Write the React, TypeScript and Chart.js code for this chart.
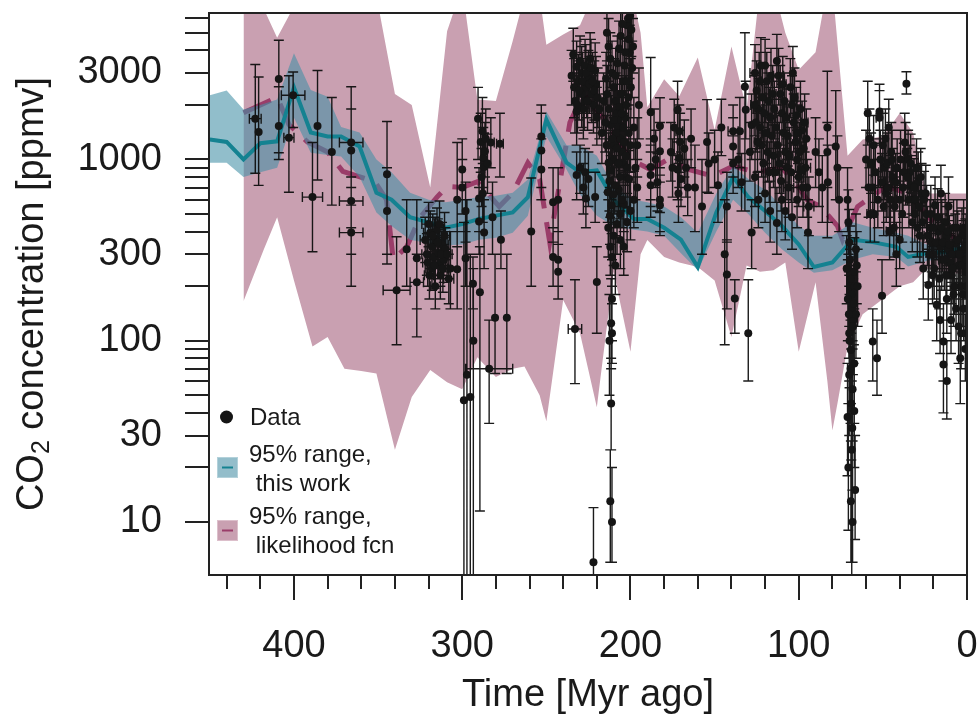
import React, { useEffect, useRef } from 'react';
import { Chart, registerables } from 'chart.js';

Chart.register(...registerables);

const FONT = "'Liberation Sans', Arial, Helvetica, sans-serif";
const INK = '#1a1a1a';

// ---------- axes ----------
const xTickValues = [0, 20, 40, 60, 80, 100, 120, 140, 160, 180, 200, 220, 240, 260, 280, 300, 320, 340, 360, 380, 400, 420, 440];
const xTickLabels = [0, 100, 200, 300, 400];
const yTickValues = [10, 20, 30, 40, 50, 60, 70, 80, 90, 100, 200, 300, 400, 500, 600, 700, 800, 900, 1000, 2000, 3000, 4000, 5000, 6000];
const yTickLabels = [10, 30, 100, 300, 1000, 3000];

// ---------- 95% range, likelihood fcn (pink band) ----------
const pinkAge = [430, 418, 410, 400, 389, 380, 370, 360, 351, 340, 330, 319, 309, 300, 291, 280, 270, 263, 254, 250, 240, 230, 220, 210, 200, 194, 190, 180, 171, 160, 150, 140, 131, 123, 115, 108, 100, 90, 83, 80, 77, 71, 62, 50, 40, 32, 24, 12, 0];
const pinkHigh = [12000, 6800, 4700, 7000, 9000, 9000, 9000, 9000, 8000, 2300, 2000, 700, 5100, 9000, 2140, 2100, 4500, 8000, 8000, 4300, 4900, 5500, 9000, 9000, 9000, 5000, 1940, 2770, 2230, 3650, 1460, 4200, 1880, 9000, 9000, 5000, 3130, 3900, 9000, 9000, 4400, 1050, 1290, 1340, 1800, 1400, 650, 650, 650];
const pinkLow = [165, 318, 480, 215, 93, 105, 70, 68, 66, 25, 49, 69, 59, 54, 81, 63, 70, 72, 50, 36, 168, 110, 43, 240, 87, 300, 360, 290, 270, 255, 215, 105, 260, 240, 245, 270, 87, 210, 60, 32, 45, 93, 140, 170, 200, 210, 250, 240, 230];

// likelihood median (dashed)
const likelihoodAge = [430, 410, 403, 392, 380, 371, 352, 345, 341, 333, 325, 315, 309, 300, 291, 278, 270, 261, 254, 248, 236, 228, 214, 200, 188, 178, 165, 151, 139, 125, 110, 100, 95, 87, 77, 74, 65, 48, 35, 20, 0];
const likelihoodMedian = [1810, 2200, 1560, 1250, 1100, 860, 755, 600, 280, 330, 480, 620, 710, 700, 755, 550, 655, 960, 780, 350, 1600, 2300, 1600, 1000, 880, 1000, 880, 810, 920, 850, 900, 700, 600, 550, 430, 361, 550, 710, 650, 450, 330];

// ---------- 95% range, this work (blue band) ----------
const blueAge = [450, 440, 430, 420, 410, 400, 390, 380, 372, 361, 351, 342, 331, 320, 310, 300, 290, 280, 270, 261, 250, 238, 230, 220, 210, 198, 190, 180, 170, 160, 149, 139, 130, 120, 110, 100, 91, 80, 68, 56, 42, 35, 24, 12, 0];
const blueHigh = [2260, 2400, 1890, 2000, 2140, 3860, 2420, 2220, 1510, 1410, 1000, 850, 655, 600, 580, 600, 620, 630, 655, 775, 1840, 1200, 1200, 1050, 710, 600, 580, 550, 480, 394, 650, 925, 780, 680, 550, 430, 380, 380, 450, 420, 394, 380, 340, 345, 361];
const blueLow = [960, 960, 800, 850, 900, 1700, 1090, 1060, 1040, 800, 510, 430, 361, 345, 335, 340, 361, 370, 394, 490, 1340, 880, 640, 490, 430, 410, 400, 380, 304, 245, 400, 600, 500, 394, 320, 270, 237, 245, 280, 300, 290, 257, 275, 285, 300];
const blueMedian = [1290, 1250, 1000, 1230, 1260, 2500, 1410, 1340, 1340, 1180, 655, 600, 480, 450, 420, 440, 470, 490, 510, 620, 1660, 960, 850, 870, 600, 470, 470, 420, 361, 255, 510, 800, 620, 520, 430, 340, 255, 270, 361, 350, 330, 290, 304, 310, 330];

// ---------- proxy data: [age, CO2, CO2 low, CO2 high, age error] ----------
const ptsDevonian = [
  [423, 1680, 840, 3340, 3.5], [421, 1420, 720, 2850, 0], [409, 2780, 1090, 4550, 0], [409, 1530, 1000, 2520, 0],
  [403, 1320, 660, 2900, 3], [400.5, 2260, 1500, 3040, 7], [389, 620, 310, 1240, 6], [386, 1530, 770, 3100, 0],
  [377.5, 1100, 560, 2200, 0], [366, 1240, 200, 2520, 7], [366, 1120, 700, 1900, 0], [366, 590, 420, 800, 7],
  [366, 395, 300, 560, 7],
];
const ptsCarboniferous = [
  [344.7, 830, 265, 1620, 0], [344.7, 520, 300, 900, 0], [339, 190, 95, 375, 8], [333, 320, 200, 600, 0],
  [327, 285, 105, 600, 0], [327, 210, 150, 300, 4], [319, 394, 300, 520, 4], [318, 330, 250, 430, 4],
  [317, 290, 220, 380, 4], [318, 250, 190, 330, 4], [316, 361, 270, 480, 4], [315, 410, 310, 540, 4],
  [314, 305, 230, 400, 4], [313, 270, 200, 360, 4], [312, 340, 260, 450, 4], [320, 440, 330, 580, 4],
  [313, 230, 170, 310, 4], [311, 280, 210, 370, 4], [310, 320, 240, 420, 3], [316, 200, 150, 270, 3],
  [321, 300, 230, 390, 3], [307, 250, 150, 400, 0], [303, 600, 330, 1240, 0], [303, 248, 150, 400, 0],
  [322, 360, 270, 480, 3], [320.5, 270, 200, 360, 3], [319.5, 230, 170, 310, 3], [317.5, 380, 280, 500, 3],
  [316.5, 260, 195, 350, 3], [314.5, 350, 260, 470, 3], [313.5, 440, 330, 590, 3], [312.5, 300, 220, 400, 3],
  [311.5, 250, 185, 335, 3], [310.5, 380, 285, 510, 3], [309, 300, 220, 400, 3], [308, 220, 160, 300, 3],
  [300, 880, 600, 1300, 0], [300, 700, 500, 1000, 0], [298, 520, 350, 750, 0], [298, 285, 200, 400, 0],
  [297.2, 65, 3, 600, 0], [299, 47, 2, 450, 0], [295.2, 49, 2, 300, 0], [293.4, 100, 3, 250, 0],
];
const ptsPermian = [
  [293.6, 206, 150, 290, 0], [290.6, 1680, 1000, 2500, 0], [290, 610, 400, 900, 0], [290, 455, 300, 700, 0],
  [289.5, 185, 11.5, 330, 0], [288, 1430, 900, 2200, 0], [287.5, 1020, 700, 1500, 0], [287, 910, 600, 1400, 0],
  [286.5, 1110, 800, 1600, 0], [287, 395, 250, 600, 0], [284, 70, 35, 130, 14], [283, 1240, 900, 1700, 2],
  [282, 480, 300, 750, 0], [280.5, 134, 66, 300, 0], [277.6, 1220, 800, 1800, 2], [277, 361, 250, 520, 0],
  [273.5, 134, 66, 300, 0], [259, 400, 200, 790, 0], [253, 1340, 700, 2000, 0], [253, 1120, 700, 1800, 0],
  [253, 880, 600, 1300, 0], [246, 580, 350, 900, 0], [246, 290, 200, 420, 0], [243, 600, 400, 900, 0],
  [243, 280, 200, 400, 0], [243, 240, 170, 340, 0], [289, 1250, 850, 1800, 0], [288.5, 800, 550, 1150, 0],
  [287.8, 650, 450, 950, 0], [286, 1300, 900, 1900, 0], [285, 950, 650, 1380, 0],
];
const ptsTriassic = [
  [233, 116, 58, 217, 4], [232, 3250, 2000, 4500, 0], [231, 2700, 1800, 3800, 0], [230, 3500, 2400, 4800, 0],
  [229, 2300, 1500, 3300, 2], [229, 3000, 2000, 4200, 0], [228, 1900, 1300, 2800, 0], [227, 3300, 2300, 4600, 2],
  [226, 2500, 1700, 3600, 0], [225, 2800, 1900, 4000, 0], [224, 3600, 2500, 5000, 0], [223, 2300, 1600, 3300, 2],
  [222, 2000, 1400, 2900, 0], [221, 3100, 2100, 4400, 0], [220.5, 2600, 1800, 3700, 0], [220, 1700, 1200, 2500, 0],
  [232, 1840, 1200, 2700, 0], [233, 2100, 1400, 3000, 0], [235, 2900, 2000, 4000, 0], [232, 820, 600, 1100, 0],
  [230, 900, 650, 1200, 0], [228, 700, 500, 950, 0], [227, 850, 600, 1150, 0], [226.5, 610, 420, 850, 0],
  [225, 780, 550, 1100, 0], [221, 620, 450, 850, 0], [222, 6, 3, 12, 0], [220, 211, 110, 330, 0],
  [234, 3800, 2700, 5300, 0], [233.5, 2500, 1700, 3600, 0], [231.5, 2000, 1400, 2900, 0], [230.5, 2400, 1650, 3500, 0],
  [228.5, 2700, 1850, 3900, 0], [227.5, 2100, 1450, 3000, 0], [226.5, 3000, 2100, 4300, 0], [225.5, 2100, 1450, 3000, 0],
  [224.5, 2600, 1800, 3700, 0], [223.5, 3200, 2200, 4600, 0], [222.5, 2700, 1850, 3900, 0], [221.5, 2400, 1650, 3500, 0],
  [219.5, 2200, 1500, 3200, 0], [218.5, 1900, 1300, 2700, 0],
];
const ptsLateTriassic = [
  [214, 5000, 3500, 7000, 0], [213, 4200, 3000, 6000, 0], [212, 3600, 2500, 5000, 0], [211, 3000, 2000, 4500, 0],
  [210, 2500, 1700, 3600, 0], [209, 2100, 1400, 3000, 0], [208, 1800, 1200, 2600, 0], [207, 1500, 1000, 2200, 0],
  [206, 1300, 900, 1900, 0], [205, 1100, 750, 1600, 0], [204, 950, 650, 1400, 0], [203, 800, 550, 1200, 0],
  [202, 5500, 4000, 7500, 0], [201, 4600, 3300, 6500, 0], [200.5, 3900, 2800, 5500, 0], [201.5, 6000, 4500, 8000, 0],
  [203.5, 3300, 2300, 4700, 0], [204.5, 2700, 1900, 3900, 0], [205.5, 2300, 1600, 3300, 0], [206.5, 1950, 1350, 2800, 0],
  [207.5, 1650, 1150, 2400, 0], [208.5, 1400, 950, 2000, 0], [209.5, 1200, 800, 1750, 0], [210.5, 1000, 700, 1450, 0],
  [211.5, 870, 600, 1250, 0], [212.5, 760, 520, 1100, 0], [213.5, 660, 450, 950, 0], [214.5, 2800, 2000, 3900, 0],
  [202.5, 2000, 1400, 2900, 0], [203, 1700, 1200, 2400, 0], [201, 1400, 1000, 2000, 0], [200, 1200, 850, 1700, 0],
  [204, 570, 400, 820, 0], [206, 500, 350, 720, 0], [208, 440, 300, 640, 0], [210, 380, 260, 550, 0],
  [212, 330, 230, 480, 0], [211, 290, 200, 420, 0], [209, 260, 180, 380, 0], [207, 680, 470, 980, 0],
  [205, 600, 420, 870, 0], [211, 170, 100, 280, 0], [211.5, 125, 70, 220, 0], [212.5, 100, 50, 180, 0],
  [211, 110, 75, 160, 0], [211.5, 45, 25, 80, 0], [212, 13, 6, 25, 0], [211, 10, 6, 20, 0],
  [213.8, 2300, 1600, 3300, 0], [212.8, 1900, 1300, 2700, 0], [211.8, 1550, 1050, 2250, 0], [210.8, 1300, 900, 1900, 0],
  [209.8, 1650, 1150, 2400, 0], [208.8, 2900, 2000, 4100, 0], [207.8, 3400, 2400, 4800, 0], [206.8, 4100, 2900, 5800, 0],
  [205.8, 4800, 3400, 6800, 0], [204.8, 5600, 4000, 7800, 0], [203.8, 1250, 850, 1800, 0], [202.8, 1050, 720, 1500, 0],
  [201.8, 900, 620, 1300, 0], [200.8, 780, 540, 1120, 0], [199.8, 2500, 1700, 3600, 0], [199, 3200, 2200, 4500, 0],
  [198.5, 4200, 3000, 6000, 0], [199.5, 5200, 3700, 7200, 0], [200.2, 6200, 4500, 8500, 0], [201.2, 2200, 1500, 3200, 0],
  [202.2, 2700, 1900, 3800, 0], [203.2, 3900, 2700, 5500, 0], [204.2, 1500, 1000, 2200, 0], [205.2, 1800, 1250, 2600, 0],
  [206.2, 800, 550, 1150, 0], [207.2, 950, 650, 1350, 0], [208.2, 1150, 800, 1650, 0], [209.2, 720, 500, 1050, 0],
  [210.2, 640, 440, 920, 0], [211.2, 560, 390, 800, 0], [212.2, 490, 340, 700, 0], [213.2, 420, 290, 600, 0],
  [214.2, 1200, 820, 1750, 0], [213, 960, 660, 1400, 0], [206, 360, 250, 520, 0], [204, 330, 230, 470, 0],
  [202, 450, 310, 650, 0], [200, 520, 360, 750, 0], [198, 600, 420, 860, 0], [215, 1600, 1100, 2300, 0],
  [216, 2100, 1450, 3000, 0], [217, 1400, 950, 2000, 0],
];
const ptsJurassic = [
  [198, 1500, 1000, 2200, 0], [197, 900, 600, 1300, 0], [196, 1200, 800, 1700, 0], [196, 700, 450, 1000, 0],
  [195, 2000, 1300, 3200, 0], [188, 1820, 910, 3650, 0], [188, 910, 600, 1300, 0], [188, 820, 550, 1200, 0],
  [188, 720, 480, 1100, 0], [182.5, 1530, 510, 2190, 0], [182.5, 1110, 750, 1600, 0], [182.5, 600, 400, 900, 0],
  [182.5, 560, 380, 820, 0], [172, 1880, 1300, 2700, 0], [171, 1430, 1000, 2000, 2], [170.5, 1250, 850, 1800, 0],
  [171, 1020, 700, 1450, 2], [172, 880, 600, 1250, 0], [170, 780, 550, 1100, 2], [171.5, 650, 450, 950, 0],
  [161.7, 700, 400, 1200, 0], [157.5, 550, 300, 1000, 0], [154.5, 1250, 660, 2140, 0], [153.5, 950, 650, 1400, 0],
  [148, 720, 450, 1100, 0], [144, 300, 95, 600, 0], [142.7, 550, 350, 850, 0], [142.7, 232, 150, 360, 0],
  [139, 1430, 1000, 2000, 3], [139, 1180, 800, 1700, 0], [139, 950, 650, 1350, 0], [138, 171, 110, 217, 0],
  [135, 1430, 900, 2200, 0], [132, 2520, 520, 5000, 0], [130, 110, 60, 217, 0], [131.5, 1880, 1300, 2700, 0],
  [128, 395, 250, 600, 0], [128, 1550, 1000, 2300, 0], [186, 1300, 900, 1900, 0], [185, 1000, 700, 1450, 0],
  [184, 750, 520, 1080, 0], [176, 1100, 760, 1600, 0], [175, 900, 620, 1300, 0], [174, 1500, 1050, 2150, 0],
  [168, 1150, 800, 1650, 0], [167, 900, 620, 1300, 0], [166, 700, 490, 1000, 0], [164, 1300, 900, 1900, 0],
  [150, 1000, 700, 1450, 0], [146, 1500, 1050, 2150, 0], [136, 1000, 700, 1450, 0], [134, 750, 520, 1080, 0],
  [129, 1100, 760, 1600, 0],
];
const ptsCretaceous = [
  [126, 3000, 2000, 4300, 3], [125, 2400, 1600, 3500, 0], [124, 1900, 1300, 2800, 3], [123, 1500, 1000, 2200, 0],
  [122, 1200, 800, 1800, 3], [121, 950, 650, 1400, 0], [120, 3300, 2300, 4600, 0], [119, 2700, 1800, 3900, 3],
  [118, 2100, 1400, 3000, 0], [117, 1700, 1150, 2500, 3], [116, 1350, 900, 2000, 0], [115, 1050, 700, 1550, 3],
  [114, 850, 580, 1250, 0], [113, 446, 300, 700, 0], [113, 3500, 2500, 4900, 0], [112, 2900, 2000, 4100, 3],
  [111, 2300, 1600, 3300, 0], [110, 1800, 1200, 2600, 3], [109, 1400, 950, 2000, 0], [108, 1100, 750, 1600, 3],
  [107, 900, 600, 1300, 0], [106, 700, 480, 1000, 3], [105, 2500, 1700, 3600, 0], [104, 2000, 1350, 2900, 3],
  [103, 1600, 1100, 2300, 0], [102, 1250, 850, 1800, 3], [101, 1000, 700, 1450, 0], [100, 800, 550, 1150, 3],
  [99, 1900, 1300, 2700, 0], [98, 1450, 1000, 2100, 3], [97, 1150, 800, 1650, 0], [96, 900, 600, 1300, 3],
  [95, 700, 480, 1000, 0], [94.5, 395, 250, 600, 0], [94, 550, 380, 800, 3], [120, 650, 450, 950, 0],
  [117, 520, 350, 760, 0], [110, 600, 400, 880, 0], [104, 480, 320, 700, 0], [126, 800, 550, 1150, 0],
  [126.5, 2000, 1350, 2900, 2], [125.5, 1600, 1100, 2300, 0], [124.5, 1250, 850, 1800, 2], [123.5, 2700, 1850, 3900, 0],
  [122.5, 3300, 2300, 4700, 0], [121.5, 2200, 1500, 3200, 2], [120.5, 1800, 1250, 2600, 0], [119.5, 1400, 950, 2000, 2],
  [118.5, 1100, 750, 1600, 0], [117.5, 850, 580, 1250, 2], [116.5, 2900, 2000, 4100, 0], [115.5, 2300, 1600, 3300, 2],
  [114.5, 1900, 1300, 2700, 0], [113.5, 1500, 1050, 2150, 2], [112.5, 1200, 820, 1750, 0], [111.5, 950, 650, 1400, 2],
  [110.5, 760, 520, 1100, 0], [109.5, 2600, 1800, 3700, 2], [108.5, 2100, 1450, 3000, 0], [107.5, 1700, 1150, 2450, 2],
  [106.5, 1350, 920, 1950, 0], [105.5, 1050, 720, 1500, 2], [104.5, 850, 580, 1230, 0], [103.5, 3000, 2100, 4200, 0],
  [102.5, 2200, 1500, 3200, 2], [101.5, 1750, 1200, 2500, 0], [100.5, 1400, 950, 2000, 2], [99.5, 1100, 750, 1600, 0],
  [98.5, 870, 600, 1250, 2], [97.5, 700, 480, 1000, 0], [96.5, 1600, 1100, 2300, 2], [95.5, 1300, 900, 1900, 0],
  [124, 600, 420, 860, 0], [108, 520, 360, 750, 0], [101, 600, 420, 860, 0],
  [90, 1100, 700, 1700, 0], [88, 850, 550, 1300, 0], [86, 700, 450, 1050, 0], [83, 1500, 370, 3070, 0],
  [83, 1100, 700, 1600, 0], [82.7, 750, 450, 1200, 0], [78, 1180, 600, 2400, 0], [77, 900, 600, 1350, 0],
  [76, 600, 400, 900, 0],
];
const ptsKPg = [
  [71, 600, 400, 900, 0], [70.5, 450, 300, 680, 0], [70, 350, 230, 530, 0], [69.5, 280, 180, 430, 0],
  [69, 220, 140, 340, 0], [68.5, 180, 110, 290, 0], [68, 150, 90, 250, 0], [67.5, 130, 75, 220, 0],
  [70, 110, 60, 200, 0], [69, 89, 45, 170, 0], [68, 54, 28, 100, 0], [67, 41, 20, 80, 0],
  [71, 38, 18, 75, 0], [66.5, 15, 8, 30, 0], [68, 10, 6, 20, 0], [67, 75, 35, 140, 0],
  [70, 65, 30, 120, 0], [69.5, 200, 120, 320, 0], [67, 240, 150, 370, 0], [66, 320, 200, 500, 0],
  [68.5, 25, 3, 60, 0], [71.5, 250, 160, 380, 0], [70.8, 170, 100, 280, 0], [70.2, 140, 80, 240, 0],
  [69.8, 100, 55, 180, 0], [69.2, 70, 35, 130, 0], [68.8, 45, 22, 90, 0], [68.2, 33, 15, 65, 0],
  [67.8, 120, 65, 210, 0], [67.2, 160, 95, 260, 0], [66.8, 200, 120, 320, 0], [70.5, 20, 9, 45, 0],
  [69, 13, 6, 28, 0], [66, 140, 80, 240, 0], [65.5, 260, 160, 400, 0], [65, 200, 120, 320, 0],
];
const ptsPaleogene = [
  [59, 1800, 1200, 2700, 0], [58, 1300, 900, 1900, 0], [57, 950, 650, 1400, 2], [56, 700, 480, 1000, 0],
  [55, 500, 350, 720, 2], [56, 99, 60, 150, 0], [53.5, 80, 50, 130, 0], [52, 1840, 1300, 2600, 0],
  [52, 1700, 1200, 2400, 2], [50.5, 177, 110, 280, 0], [50, 1200, 800, 1800, 0], [49, 900, 600, 1350, 2],
  [48, 650, 450, 950, 0], [47.5, 950, 650, 1400, 0], [46, 400, 280, 580, 2], [45, 1100, 750, 1600, 0],
  [44, 800, 550, 1150, 2], [43, 550, 380, 800, 0], [42, 300, 200, 450, 0], [40, 600, 420, 860, 2],
  [38, 700, 480, 1000, 0], [37, 1240, 850, 1800, 0], [36, 2620, 2300, 3050, 0], [35, 1000, 700, 1450, 2],
  [34, 850, 600, 1200, 0], [33, 720, 500, 1050, 2], [32, 600, 420, 870, 0], [31, 500, 350, 720, 0],
  [30, 900, 620, 1300, 2], [29, 750, 520, 1100, 0], [28, 380, 270, 550, 0], [27, 650, 450, 950, 2],
  [26, 250, 170, 370, 0], [40, 361, 250, 520, 0], [60, 1000, 700, 1450, 0], [58.5, 700, 480, 1000, 0],
  [57.5, 500, 350, 720, 2], [55.5, 1200, 820, 1750, 0], [54.5, 850, 580, 1230, 2], [53, 600, 420, 860, 0],
  [51.5, 1000, 700, 1450, 0], [50.5, 750, 520, 1080, 2], [49.5, 550, 380, 800, 0], [48.5, 1300, 900, 1900, 0],
  [47, 700, 480, 1000, 2], [46.5, 1500, 1050, 2150, 0], [45.5, 600, 420, 860, 0], [44.5, 1000, 700, 1450, 2],
  [43.5, 420, 290, 600, 0], [42.5, 750, 520, 1080, 0], [41.5, 900, 620, 1300, 2], [39.5, 1000, 700, 1450, 0],
  [38.5, 500, 350, 720, 0], [37.5, 850, 590, 1230, 2], [36.5, 1100, 760, 1600, 0], [35.5, 800, 560, 1150, 0],
  [34.5, 600, 420, 860, 2], [33.5, 950, 660, 1380, 0], [32.5, 450, 310, 650, 0], [31.5, 700, 490, 1010, 2],
  [30.5, 600, 420, 860, 0], [29.5, 420, 290, 600, 0], [28.5, 550, 380, 790, 2], [27.5, 800, 560, 1150, 0],
  [26.5, 450, 310, 650, 0], [25.5, 600, 420, 860, 0],
];
const ptsNeogene = [
  [24, 500, 350, 720, 0], [23, 203, 130, 320, 0], [22, 420, 290, 600, 2], [21, 350, 240, 500, 0],
  [20, 300, 200, 430, 2], [19, 560, 390, 800, 0], [18, 158, 100, 250, 0], [17, 400, 280, 580, 2],
  [16, 330, 230, 470, 0], [15, 280, 190, 400, 2], [14, 99, 60, 160, 0], [14, 74, 40, 130, 0],
  [13, 450, 310, 650, 0], [12, 380, 260, 550, 2], [11, 320, 220, 460, 0], [10, 270, 190, 390, 2],
  [9, 230, 160, 330, 0], [8, 420, 290, 600, 2], [7, 350, 240, 500, 0], [6, 300, 210, 430, 2],
  [5, 260, 180, 370, 0], [4, 80, 45, 140, 0], [4, 200, 140, 290, 0], [3, 380, 260, 540, 1.5],
  [2, 320, 220, 460, 0], [1.5, 280, 190, 400, 1.5], [1, 240, 170, 340, 0], [0.5, 350, 250, 500, 0],
  [2.5, 180, 120, 260, 0], [6.5, 150, 100, 220, 0], [9.5, 130, 85, 200, 0], [11, 550, 380, 800, 0],
  [15.5, 650, 450, 930, 0], [20.5, 230, 160, 330, 0], [0.2, 200, 140, 290, 0], [3.5, 110, 70, 170, 0],
  [1, 90, 60, 140, 0], [12, 60, 37, 100, 0], [24.5, 650, 450, 930, 0], [23.5, 380, 260, 550, 2],
  [22.5, 300, 210, 430, 0], [21.5, 500, 350, 720, 2], [20, 420, 290, 600, 0], [19.5, 250, 170, 360, 0],
  [18.5, 350, 240, 500, 2], [17.5, 480, 330, 690, 0], [16.5, 220, 150, 320, 0], [15, 420, 290, 600, 0],
  [14.5, 350, 240, 500, 2], [13.5, 280, 190, 400, 0], [12.5, 230, 160, 330, 0], [11.5, 400, 280, 580, 2],
  [10.5, 340, 240, 490, 0], [9, 300, 210, 430, 2], [8.5, 250, 170, 360, 0], [7.5, 200, 140, 290, 0],
  [6, 420, 290, 600, 0], [5.5, 360, 250, 520, 2], [4.5, 300, 210, 430, 0], [3, 260, 180, 370, 0],
  [2, 420, 290, 600, 2], [1, 330, 230, 470, 0], [0.3, 280, 190, 400, 0], [8, 180, 120, 260, 0],
  [12, 170, 110, 250, 0], [16, 130, 85, 200, 0], [5, 120, 75, 190, 0], [2, 150, 100, 220, 0],
  [0.5, 110, 70, 170, 0],
];

const allPoints = [
  ...ptsDevonian, ...ptsCarboniferous, ...ptsPermian, ...ptsTriassic, ...ptsLateTriassic,
  ...ptsJurassic, ...ptsCretaceous, ...ptsKPg, ...ptsPaleogene, ...ptsNeogene,
];

const PINK = '#c9a0b1';
const PINK_LINE = '#9a3d69';
const BLUE = 'rgba(67,144,166,0.585)';
const TEAL = '#148291';

function xy(ages: number[], vals: number[]) {
  return ages.map((a, i) => ({ x: a, y: vals[i] }));
}

const overlay = {
  id: 'overlay',
  beforeDatasetDraw(chart: any, args: any) {
    if (args.index !== 6) return;
    const { ctx, chartArea: a, scales } = chart;
    const xs = scales.x, ys = scales.y;
    ctx.save();
    ctx.beginPath();
    ctx.rect(a.left, a.top, a.right - a.left, a.bottom - a.top);
    ctx.clip();
    ctx.strokeStyle = 'rgba(15,15,15,0.95)';
    ctx.lineWidth = 1.4;
    ctx.beginPath();
    for (const p of allPoints) {
      const [t, v, lo, hi, dt] = p;
      const px = xs.getPixelForValue(t);
      const py = ys.getPixelForValue(v);
      const pl = ys.getPixelForValue(lo);
      const ph = ys.getPixelForValue(hi);
      ctx.moveTo(px, pl); ctx.lineTo(px, ph);
      ctx.moveTo(px - 5, pl); ctx.lineTo(px + 5, pl);
      ctx.moveTo(px - 5, ph); ctx.lineTo(px + 5, ph);
      if (dt > 0) {
        const l = xs.getPixelForValue(t + dt);
        const r = xs.getPixelForValue(t - dt);
        ctx.moveTo(l, py); ctx.lineTo(r, py);
        ctx.moveTo(l, py - 5); ctx.lineTo(l, py + 5);
        ctx.moveTo(r, py - 5); ctx.lineTo(r, py + 5);
      }
    }
    ctx.stroke();
    ctx.restore();
  },
  afterDraw(chart: any) {
    const { ctx, chartArea: a, scales } = chart;
    const xs = scales.x, ys = scales.y;
    ctx.save();
    ctx.strokeStyle = '#222';
    ctx.lineWidth = 2;
    ctx.strokeRect(a.left, a.top, a.right - a.left, a.bottom - a.top);
    ctx.beginPath();
    for (const v of yTickValues) {
      const py = Math.round(ys.getPixelForValue(v));
      ctx.moveTo(a.left - 24, py); ctx.lineTo(a.left, py);
    }
    for (const v of xTickValues) {
      const px = Math.round(xs.getPixelForValue(v));
      const len = v % 100 === 0 ? 25 : 14;
      ctx.moveTo(px, a.bottom); ctx.lineTo(px, a.bottom + len);
    }
    ctx.stroke();

    ctx.fillStyle = INK;
    ctx.font = `38px ${FONT}`;
    ctx.textAlign = 'center';
    ctx.textBaseline = 'alphabetic';
    ctx.fillText('Time [Myr ago]', (a.left + a.right) / 2, 706);

    ctx.save();
    ctx.translate(43, (a.top + a.bottom) / 2);
    ctx.rotate(-Math.PI / 2);
    ctx.textAlign = 'left';
    ctx.font = `38px ${FONT}`;
    const w1 = ctx.measureText('CO').width;
    const w3 = ctx.measureText(' concentration [ppmv]').width;
    ctx.font = `25px ${FONT}`;
    const w2 = ctx.measureText('2').width;
    let xx = -(w1 + w2 + w3) / 2;
    ctx.font = `38px ${FONT}`;
    ctx.fillText('CO', xx, 0); xx += w1;
    ctx.font = `25px ${FONT}`;
    ctx.fillText('2', xx, 6); xx += w2;
    ctx.font = `38px ${FONT}`;
    ctx.fillText(' concentration [ppmv]', xx, 0);
    ctx.restore();

    ctx.font = `24px ${FONT}`;
    ctx.textAlign = 'left';
    ctx.textBaseline = 'alphabetic';
    ctx.beginPath();
    ctx.arc(226.5, 417, 6.5, 0, Math.PI * 2);
    ctx.fillStyle = '#151515';
    ctx.fill();
    ctx.fillStyle = INK;
    ctx.fillText('Data', 250, 425);

    ctx.fillStyle = '#93bdca';
    ctx.fillRect(217, 457, 21, 21);
    ctx.strokeStyle = '#b3d1da';
    ctx.lineWidth = 1;
    ctx.strokeRect(217.5, 457.5, 20, 20);
    ctx.strokeStyle = TEAL;
    ctx.lineWidth = 2;
    ctx.beginPath(); ctx.moveTo(222, 467.5); ctx.lineTo(233, 467.5); ctx.stroke();
    ctx.fillStyle = INK;
    ctx.fillText('95% range,', 249, 462);
    ctx.fillText(' this work', 249, 491);

    ctx.fillStyle = PINK;
    ctx.fillRect(217, 520, 21, 21);
    ctx.strokeStyle = '#dcbfcb';
    ctx.lineWidth = 1;
    ctx.strokeRect(217.5, 520.5, 20, 20);
    ctx.strokeStyle = PINK_LINE;
    ctx.lineWidth = 2;
    ctx.beginPath(); ctx.moveTo(222, 530.5); ctx.lineTo(233, 530.5); ctx.stroke();
    ctx.fillStyle = INK;
    ctx.fillText('95% range,', 249, 524);
    ctx.fillText(' likelihood fcn', 249, 553);
    ctx.restore();
  },
};

export default function App() {
  const ref = useRef<HTMLCanvasElement>(null);
  useEffect(() => {
    Chart.defaults.font.family = FONT;
    const lineBase = { pointRadius: 0, pointHoverRadius: 0, tension: 0, spanGaps: true };
    const chart = new Chart(ref.current as HTMLCanvasElement, {
      type: 'line',
      data: {
        datasets: [
          { ...lineBase, label: 'pinkHigh', data: xy(pinkAge, pinkHigh), borderWidth: 0, borderColor: 'transparent', backgroundColor: PINK, fill: '+1', order: 6 },
          { ...lineBase, label: 'pinkLow', data: xy(pinkAge, pinkLow), borderWidth: 0, borderColor: 'transparent', fill: false, order: 7 },
          { ...lineBase, label: 'likelihood', data: xy(likelihoodAge, likelihoodMedian), borderWidth: 5, borderColor: PINK_LINE, borderDash: [30, 14], borderCapStyle: 'butt', fill: false, order: 5 },
          { ...lineBase, label: 'blueHigh', data: xy(blueAge, blueHigh), borderWidth: 0, borderColor: 'transparent', backgroundColor: BLUE, fill: '+1', order: 4 },
          { ...lineBase, label: 'blueLow', data: xy(blueAge, blueLow), borderWidth: 0, borderColor: 'transparent', fill: false, order: 3 },
          { ...lineBase, label: 'median', data: xy(blueAge, blueMedian), borderWidth: 4, borderColor: TEAL, fill: false, order: 2 },
          { type: 'scatter', label: 'Data', data: allPoints.map((p) => ({ x: p[0], y: p[1] })), pointRadius: 4, pointHoverRadius: 4, backgroundColor: '#151515', borderWidth: 0, showLine: false, order: 1 } as any,
        ],
      },
      options: {
        responsive: false,
        maintainAspectRatio: false,
        animation: false,
        events: [],
        layout: { padding: { left: 0, right: 12, top: 13, bottom: 0 } },
        plugins: { legend: { display: false }, tooltip: { enabled: false } },
        scales: {
          x: {
            type: 'linear',
            reverse: true,
            min: 0,
            max: 450.5,
            bounds: 'data',
            grid: { display: false, drawTicks: false },
            border: { display: false },
            ticks: {
              autoSkip: false,
              maxRotation: 0,
              padding: 49,
              color: INK,
              font: { family: FONT, size: 38 },
              callback: (v: any) => (xTickLabels.includes(Number(v)) ? String(v) : ''),
            },
            afterBuildTicks: (s: any) => { s.ticks = xTickValues.map((v) => ({ value: v })); },
            afterFit: (s: any) => { s.height = 146; s.paddingLeft = 0; s.paddingRight = 0; },
          },
          y: {
            type: 'logarithmic',
            min: 5.1,
            max: 6430,
            bounds: 'data',
            grid: { display: false, drawTicks: false },
            border: { display: false },
            ticks: {
              autoSkip: false,
              padding: 47,
              color: INK,
              font: { family: FONT, size: 38 },
              callback: (v: any) => (yTickLabels.includes(Number(v)) ? String(v) : ''),
            },
            afterBuildTicks: (s: any) => { s.ticks = yTickValues.map((v) => ({ value: v })); },
            afterFit: (s: any) => { s.width = 209; s.paddingTop = 0; s.paddingBottom = 0; },
          },
        },
      } as any,
      plugins: [overlay],
    });
    return () => chart.destroy();
  }, []);
  return (
    <div style={{ position: 'absolute', left: 0, top: 0, width: 979, height: 721, background: '#fff' }}>
      <canvas ref={ref} width={979} height={721} style={{ display: 'block', width: 979, height: 721 }} />
    </div>
  );
}
